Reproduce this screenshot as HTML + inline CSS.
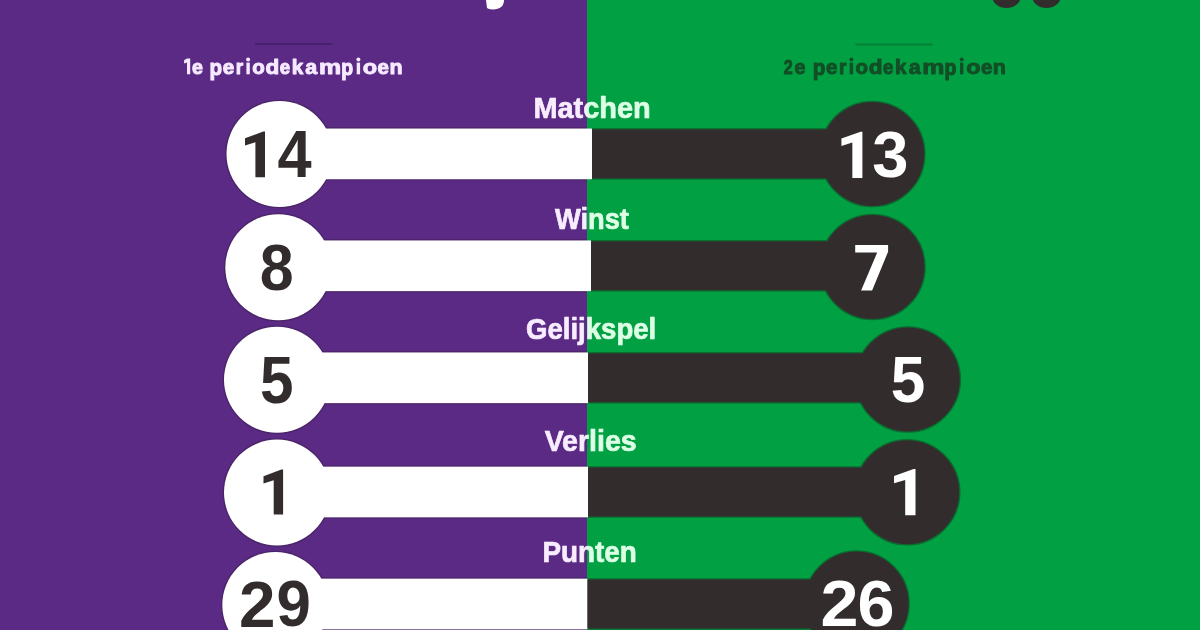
<!DOCTYPE html>
<html><head><meta charset="utf-8"><style>
html,body{margin:0;padding:0;width:1200px;height:630px;overflow:hidden;background:linear-gradient(90deg,#5a2a85 587px,#00a043 587px);position:relative;}
svg{position:absolute;left:-10px;top:-10px;display:block;font-family:"Liberation Sans", sans-serif;font-weight:bold;filter:blur(0.5px);}
</style></head><body>
<svg width="1220" height="650" viewBox="-10 -10 1220 650">
<defs><clipPath id="cl"><rect x="-20" y="-20" width="607" height="670"/></clipPath><clipPath id="cr"><rect x="587" y="-20" width="633" height="670"/></clipPath></defs>
<rect x="-20" y="-20" width="607" height="670" fill="#5a2a85"/>
<rect x="587" y="-20" width="633" height="670" fill="#00a043"/>
<path d="M485,-10 L504,-10 L504,0 C504,6 500,9.5 493,9.5 C489,9.5 487,8 487,8 L486,0 Z" fill="#ffffff"/>
<ellipse cx="1006.5" cy="-3" rx="14" ry="11" fill="#332c2d"/>
<ellipse cx="1046.5" cy="-3" rx="14" ry="11" fill="#332c2d"/>
<rect x="255" y="43" width="77.5" height="1.8" fill="#46216a"/>
<rect x="855.4" y="43.6" width="77" height="1.8" fill="#077a35"/>
<text transform="matrix(0.1969,0,0,0.1973,192.11,73.70)" font-size="100" fill="#f6eaff" stroke="#f6eaff" stroke-width="5.074" stroke-linejoin="round">e</text>
<text transform="matrix(0.2059,0,0,0.2140,209.46,74.66)" font-size="100" fill="#f6eaff" stroke="#f6eaff" stroke-width="4.762" stroke-linejoin="round">p</text>
<text transform="matrix(0.2059,0,0,0.2140,812.76,74.66)" font-size="100" fill="#134e26" stroke="#134e26" stroke-width="4.762" stroke-linejoin="round">p</text>
<text transform="matrix(0.2073,0,0,0.1973,222.77,73.70)" font-size="100" fill="#f6eaff" stroke="#f6eaff" stroke-width="4.944" stroke-linejoin="round">e</text>
<text transform="matrix(0.2073,0,0,0.1973,826.07,73.70)" font-size="100" fill="#134e26" stroke="#134e26" stroke-width="4.944" stroke-linejoin="round">e</text>
<text transform="matrix(0.1903,0,0,0.2009,235.66,73.90)" font-size="100" fill="#f6eaff" stroke="#f6eaff" stroke-width="5.112" stroke-linejoin="round">r</text>
<text transform="matrix(0.1903,0,0,0.2009,838.96,73.90)" font-size="100" fill="#134e26" stroke="#134e26" stroke-width="5.112" stroke-linejoin="round">r</text>
<rect x="246.40" y="62.6" width="3.4" height="11.7" fill="#f6eaff"/>
<circle cx="248.10" cy="59.4" r="2.0" fill="#f6eaff"/>
<rect x="849.70" y="62.6" width="3.4" height="11.7" fill="#134e26"/>
<circle cx="851.40" cy="59.4" r="2.0" fill="#134e26"/>
<text transform="matrix(0.2047,0,0,0.1973,252.18,73.70)" font-size="100" fill="#f6eaff" stroke="#f6eaff" stroke-width="4.976" stroke-linejoin="round">o</text>
<text transform="matrix(0.2047,0,0,0.1973,855.48,73.70)" font-size="100" fill="#134e26" stroke="#134e26" stroke-width="4.976" stroke-linejoin="round">o</text>
<text transform="matrix(0.2257,0,0,0.2041,265.40,73.60)" font-size="100" fill="#f6eaff" stroke="#f6eaff" stroke-width="4.653" stroke-linejoin="round">d</text>
<text transform="matrix(0.2257,0,0,0.2041,868.70,73.60)" font-size="100" fill="#134e26" stroke="#134e26" stroke-width="4.653" stroke-linejoin="round">d</text>
<text transform="matrix(0.1865,0,0,0.1973,279.75,73.70)" font-size="100" fill="#f6eaff" stroke="#f6eaff" stroke-width="5.211" stroke-linejoin="round">e</text>
<text transform="matrix(0.1865,0,0,0.1973,883.05,73.70)" font-size="100" fill="#134e26" stroke="#134e26" stroke-width="5.211" stroke-linejoin="round">e</text>
<text transform="matrix(0.2072,0,0,0.2069,291.75,73.80)" font-size="100" fill="#f6eaff" stroke="#f6eaff" stroke-width="4.830" stroke-linejoin="round">k</text>
<text transform="matrix(0.2072,0,0,0.2069,895.05,73.80)" font-size="100" fill="#134e26" stroke="#134e26" stroke-width="4.830" stroke-linejoin="round">k</text>
<text transform="matrix(0.2141,0,0,0.1973,305.36,73.70)" font-size="100" fill="#f6eaff" stroke="#f6eaff" stroke-width="4.862" stroke-linejoin="round">a</text>
<text transform="matrix(0.2141,0,0,0.1973,908.66,73.70)" font-size="100" fill="#134e26" stroke="#134e26" stroke-width="4.862" stroke-linejoin="round">a</text>
<text transform="matrix(0.2492,0,0,0.2009,318.98,73.90)" font-size="100" fill="#f6eaff" stroke="#f6eaff" stroke-width="4.443" stroke-linejoin="round">m</text>
<text transform="matrix(0.2492,0,0,0.2009,922.28,73.90)" font-size="100" fill="#134e26" stroke="#134e26" stroke-width="4.443" stroke-linejoin="round">m</text>
<text transform="matrix(0.1941,0,0,0.2140,341.14,74.66)" font-size="100" fill="#f6eaff" stroke="#f6eaff" stroke-width="4.901" stroke-linejoin="round">p</text>
<text transform="matrix(0.1941,0,0,0.2140,944.44,74.66)" font-size="100" fill="#134e26" stroke="#134e26" stroke-width="4.901" stroke-linejoin="round">p</text>
<rect x="356.70" y="62.6" width="3.4" height="11.7" fill="#f6eaff"/>
<circle cx="358.40" cy="59.4" r="2.0" fill="#f6eaff"/>
<rect x="960.00" y="62.6" width="3.4" height="11.7" fill="#134e26"/>
<circle cx="961.70" cy="59.4" r="2.0" fill="#134e26"/>
<text transform="matrix(0.2347,0,0,0.1973,362.86,73.70)" font-size="100" fill="#f6eaff" stroke="#f6eaff" stroke-width="4.630" stroke-linejoin="round">o</text>
<text transform="matrix(0.2347,0,0,0.1973,966.16,73.70)" font-size="100" fill="#134e26" stroke="#134e26" stroke-width="4.630" stroke-linejoin="round">o</text>
<text transform="matrix(0.2052,0,0,0.1973,377.58,73.70)" font-size="100" fill="#f6eaff" stroke="#f6eaff" stroke-width="4.970" stroke-linejoin="round">e</text>
<text transform="matrix(0.2052,0,0,0.1973,980.88,73.70)" font-size="100" fill="#134e26" stroke="#134e26" stroke-width="4.970" stroke-linejoin="round">e</text>
<text transform="matrix(0.2144,0,0,0.2009,389.51,73.90)" font-size="100" fill="#f6eaff" stroke="#f6eaff" stroke-width="4.815" stroke-linejoin="round">n</text>
<text transform="matrix(0.2144,0,0,0.2009,992.81,73.90)" font-size="100" fill="#134e26" stroke="#134e26" stroke-width="4.815" stroke-linejoin="round">n</text>
<path d="M187.0,58.6 L190.2,58.6 L190.2,74.3 L187.0,74.3 L187.0,62.6 L184.1,63.6 L184.1,60.3 Z" fill="#f6eaff"/>
<text transform="matrix(0.1604,0,0,0.2050,783.64,73.80)" font-size="100" fill="#134e26" stroke="#134e26" stroke-width="5.473" stroke-linejoin="round">2</text>
<text transform="matrix(0.1969,0,0,0.1973,794.61,73.70)" font-size="100" fill="#134e26" stroke="#134e26" stroke-width="5.074" stroke-linejoin="round">e</text>
<g opacity="0.75" clip-path="url(#cl)"><rect x="279.5" y="128.55" width="312.5" height="50.7" fill="none" stroke="#45235f" stroke-width="2.6"/><circle cx="279.5" cy="154.00" r="53" fill="none" stroke="#45235f" stroke-width="2.6"/><rect x="278.3" y="240.45" width="312.7" height="50.7" fill="none" stroke="#45235f" stroke-width="2.6"/><circle cx="278.3" cy="267.30" r="53" fill="none" stroke="#45235f" stroke-width="2.6"/><rect x="277.0" y="352.45" width="311.0" height="50.7" fill="none" stroke="#45235f" stroke-width="2.6"/><circle cx="277.0" cy="379.80" r="53" fill="none" stroke="#45235f" stroke-width="2.6"/><rect x="277.0" y="466.65" width="311.0" height="50.7" fill="none" stroke="#45235f" stroke-width="2.6"/><circle cx="277.0" cy="492.60" r="53" fill="none" stroke="#45235f" stroke-width="2.6"/><rect x="275.3" y="578.65" width="312.2" height="50.7" fill="none" stroke="#45235f" stroke-width="2.6"/><circle cx="275.3" cy="605.00" r="53" fill="none" stroke="#45235f" stroke-width="2.6"/></g>
<g opacity="0.75" clip-path="url(#cr)"><rect x="592" y="129.45" width="280.29999999999995" height="48.900000000000006" fill="none" stroke="#0f5a2a" stroke-width="2.6"/><circle cx="872.3" cy="154.00" r="52" fill="none" stroke="#0f5a2a" stroke-width="2.6"/><rect x="591" y="241.35" width="281.5" height="48.900000000000006" fill="none" stroke="#0f5a2a" stroke-width="2.6"/><circle cx="872.5" cy="267.00" r="52" fill="none" stroke="#0f5a2a" stroke-width="2.6"/><rect x="588" y="353.35" width="319.79999999999995" height="48.900000000000006" fill="none" stroke="#0f5a2a" stroke-width="2.6"/><circle cx="907.8" cy="379.50" r="52" fill="none" stroke="#0f5a2a" stroke-width="2.6"/><rect x="588" y="467.55" width="319.20000000000005" height="48.900000000000006" fill="none" stroke="#0f5a2a" stroke-width="2.6"/><circle cx="907.2" cy="492.20" r="52" fill="none" stroke="#0f5a2a" stroke-width="2.6"/><rect x="587.5" y="579.55" width="269.1" height="48.900000000000006" fill="none" stroke="#0f5a2a" stroke-width="2.6"/><circle cx="856.6" cy="603.60" r="52" fill="none" stroke="#0f5a2a" stroke-width="2.6"/></g>
<rect x="279.5" y="128.55" width="312.5" height="50.7" fill="#ffffff"/>
<circle cx="279.5" cy="154.00" r="53" fill="#ffffff"/>
<rect x="592" y="129.45" width="280.29999999999995" height="48.900000000000006" fill="#332c2d"/>
<circle cx="872.3" cy="154.00" r="52" fill="#332c2d"/>
<g clip-path="url(#cl)"><text transform="matrix(0.9709,0,0,1,533.40,118.15)" font-size="29.82" fill="#f8ecff" stroke="#f8ecff" stroke-width="0.7" stroke-linejoin="round">Matchen</text></g>
<g clip-path="url(#cr)"><text transform="matrix(0.9709,0,0,1,533.40,118.15)" font-size="29.82" fill="#dcffe6" stroke="#dcffe6" stroke-width="0.7" stroke-linejoin="round">Matchen</text></g>
<rect x="278.3" y="240.45" width="312.7" height="50.7" fill="#ffffff"/>
<circle cx="278.3" cy="267.30" r="53" fill="#ffffff"/>
<rect x="591" y="241.35" width="281.5" height="48.900000000000006" fill="#332c2d"/>
<circle cx="872.5" cy="267.00" r="52" fill="#332c2d"/>
<g clip-path="url(#cl)"><text transform="matrix(0.9163,0,0,1,554.88,228.85)" font-size="29.82" fill="#f8ecff" stroke="#f8ecff" stroke-width="0.7" stroke-linejoin="round">Winst</text></g>
<g clip-path="url(#cr)"><text transform="matrix(0.9163,0,0,1,554.88,228.85)" font-size="29.82" fill="#dcffe6" stroke="#dcffe6" stroke-width="0.7" stroke-linejoin="round">Winst</text></g>
<rect x="277.0" y="352.45" width="311.0" height="50.7" fill="#ffffff"/>
<circle cx="277.0" cy="379.80" r="53" fill="#ffffff"/>
<rect x="588" y="353.35" width="319.79999999999995" height="48.900000000000006" fill="#332c2d"/>
<circle cx="907.8" cy="379.50" r="52" fill="#332c2d"/>
<g clip-path="url(#cl)"><text transform="matrix(0.9251,0,0,1,525.95,338.95)" font-size="29.82" fill="#f8ecff" stroke="#f8ecff" stroke-width="0.7" stroke-linejoin="round">Gelijkspel</text></g>
<g clip-path="url(#cr)"><text transform="matrix(0.9251,0,0,1,525.95,338.95)" font-size="29.82" fill="#dcffe6" stroke="#dcffe6" stroke-width="0.7" stroke-linejoin="round">Gelijkspel</text></g>
<rect x="277.0" y="466.65" width="311.0" height="50.7" fill="#ffffff"/>
<circle cx="277.0" cy="492.60" r="53" fill="#ffffff"/>
<rect x="588" y="467.55" width="319.20000000000005" height="48.900000000000006" fill="#332c2d"/>
<circle cx="907.2" cy="492.20" r="52" fill="#332c2d"/>
<g clip-path="url(#cl)"><text transform="matrix(0.9583,0,0,1,544.64,451.15)" font-size="29.82" fill="#f8ecff" stroke="#f8ecff" stroke-width="0.7" stroke-linejoin="round">Verlies</text></g>
<g clip-path="url(#cr)"><text transform="matrix(0.9583,0,0,1,544.64,451.15)" font-size="29.82" fill="#dcffe6" stroke="#dcffe6" stroke-width="0.7" stroke-linejoin="round">Verlies</text></g>
<rect x="275.3" y="578.65" width="312.2" height="50.7" fill="#ffffff"/>
<circle cx="275.3" cy="605.00" r="53" fill="#ffffff"/>
<rect x="587.5" y="579.55" width="269.1" height="48.900000000000006" fill="#332c2d"/>
<circle cx="856.6" cy="603.60" r="52" fill="#332c2d"/>
<g clip-path="url(#cl)"><text transform="matrix(0.9341,0,0,1,542.47,562.15)" font-size="29.82" fill="#f8ecff" stroke="#f8ecff" stroke-width="0.7" stroke-linejoin="round">Punten</text></g>
<g clip-path="url(#cr)"><text transform="matrix(0.9341,0,0,1,542.47,562.15)" font-size="29.82" fill="#dcffe6" stroke="#dcffe6" stroke-width="0.7" stroke-linejoin="round">Punten</text></g>
<path d="M265.00,131.50 L263.27,131.50 L245.01,138.20 L245.01,145.62 L255.41,142.26 L255.41,177.20 L265.00,177.20 Z" fill="#332c2d"/>
<text transform="matrix(0.6131,0,0,0.6647,277.48,177.20)" font-size="100" fill="#332c2d">4</text>
<text transform="matrix(0.6091,0,0,0.6459,259.72,289.55)" font-size="100" fill="#332c2d">8</text>
<text transform="matrix(0.6030,0,0,0.6681,259.89,402.53)" font-size="100" fill="#332c2d">5</text>
<path d="M283.10,469.60 L281.40,469.60 L263.50,476.17 L263.50,483.44 L273.70,480.15 L273.70,514.40 L283.10,514.40 Z" fill="#332c2d"/>
<text transform="matrix(0.6562,0,0,0.6495,239.10,626.70)" font-size="100" fill="#332c2d">2</text>
<text transform="matrix(0.6186,0,0,0.6403,276.44,626.06)" font-size="100" fill="#332c2d">9</text>
<path d="M862.40,131.70 L860.58,131.70 L841.43,138.48 L841.43,145.97 L852.34,142.58 L852.34,177.90 L862.40,177.90 Z" fill="#ffffff"/>
<text transform="matrix(0.6513,0,0,0.6507,872.33,177.09)" font-size="100" fill="#ffffff">3</text>
<path d="M855.20,245.10 L888.10,245.10 L888.10,251.70 L872.10,290.40 L861.10,290.40 L877.20,252.40 L855.20,252.40 Z" fill="#ffffff"/>
<text transform="matrix(0.6211,0,0,0.6566,890.84,402.24)" font-size="100" fill="#ffffff">5</text>
<path d="M915.50,469.10 L913.64,469.10 L894.04,475.88 L894.04,483.37 L905.21,479.98 L905.21,515.30 L915.50,515.30 Z" fill="#ffffff"/>
<text transform="matrix(0.6833,0,0,0.6523,820.51,626.20)" font-size="100" fill="#ffffff">2</text>
<text transform="matrix(0.6653,0,0,0.6431,857.51,625.56)" font-size="100" fill="#ffffff">6</text>
</svg>
</body></html>
